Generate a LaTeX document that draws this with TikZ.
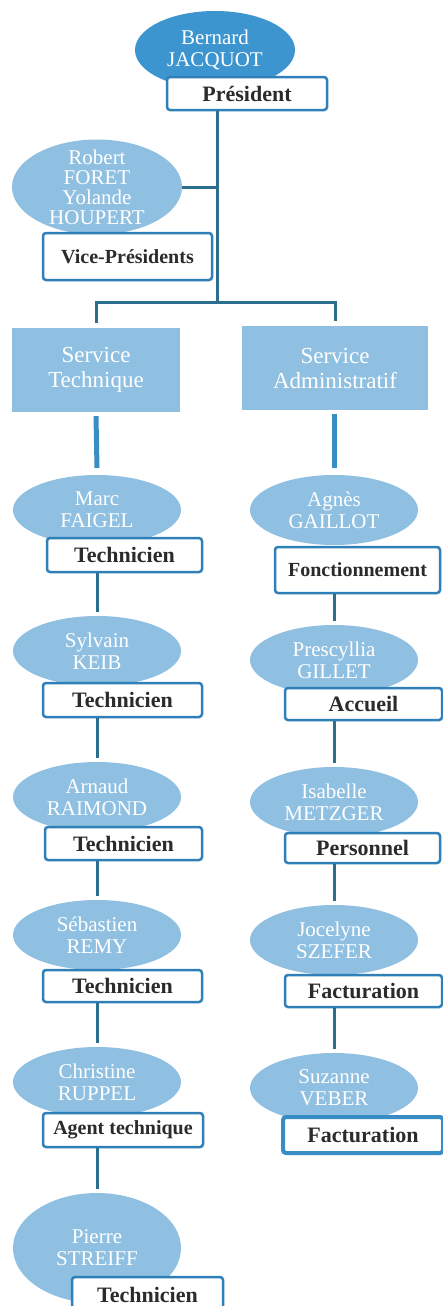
\documentclass[tikz,border=0pt]{standalone}
\usepackage{fontspec}
\setmainfont{Liberation Serif}
\usetikzlibrary{shapes.geometric, calc}
\definecolor{darkell}{HTML}{3D95D0}
\definecolor{lightell}{HTML}{8FC0E2}
\definecolor{linkcol}{HTML}{2B6E8E}
\definecolor{boxcol}{HTML}{2F80B8}
\definecolor{stemcol}{HTML}{3A8DC4}
\definecolor{rolecol}{HTML}{2B2B2B}

\begin{document}
\begin{tikzpicture}[x=1pt, y=-1pt,
    person/.style={ellipse, fill=lightell, text=white, align=center, inner sep=0pt,
      minimum width=168pt, minimum height=70pt, font=\fontsize{21}{22}\selectfont},
    role/.style={draw=boxcol, line width=2.5pt, rounded corners=3pt, fill=white,
      inner sep=0pt, minimum height=34pt, text=rolecol, font=\fontsize{22}{22}\selectfont\bfseries},
    smallrole/.style={role, font=\fontsize{20}{20}\selectfont\bfseries},
    service/.style={rectangle, fill=lightell, text=white, align=center, inner sep=0pt,
      minimum height=84pt, font=\fontsize{23}{25}\selectfont},
    link/.style={draw=linkcol, line width=3pt},
    stem/.style={draw=stemcol, line width=5pt}]
  \fill[white] (0,0) rectangle (442,1306);
  \useasboundingbox (0,0) rectangle (442,1306);

  % bureau
  \node[person, fill=darkell, minimum width=160pt, minimum height=78pt] (jacquot) at (215,50) {Bernard\\JACQUOT};
  \node[role, minimum width=160pt, minimum height=33pt] (pres) at (247,93.5) {Président};
  \node[person, inner sep=-6pt, minimum width=170pt, minimum height=95pt,
        font=\fontsize{21}{20}\selectfont] (foret) at (97,187) {Robert\\FORET\\Yolande\\HOUPERT};
  \node[smallrole, minimum width=169pt, minimum height=47pt] (vice) at (127.5,256.5) {Vice-Présidents};

  \coordinate (bar) at (217,302);
  \draw[link] (pres.south -| bar) -- (bar);
  \draw[link] (foret.east) -- (foret.east -| bar);

  % services
  \node[service, minimum width=168pt] (tech) at (96,370) {Service\\Technique};
  \node[service, minimum width=186pt] (admin) at (335,368) {Service\\Administratif};
  \draw[link] ($(tech.north)+(0,-5)$) |- (bar) -| ($(admin.north)+(0,-5)$);

  % service technique
  \node[person] (faigel) at (97,510) {Marc\\FAIGEL};
  \node[role, minimum width=155pt] (t1) at (124.5,555) {Technicien};
  \node[person] (keib) at (97,651) {Sylvain\\KEIB};
  \node[role, minimum width=159pt] (t2) at (122.5,700) {Technicien};
  \node[person] (raimond) at (97,797) {Arnaud\\RAIMOND};
  \node[role, minimum width=157pt, minimum height=33pt] (t3) at (123.5,843.5) {Technicien};
  \node[person] (remy) at (97,935) {Sébastien\\REMY};
  \node[role, minimum width=159pt, minimum height=32pt] (t4) at (122.5,986) {Technicien};
  \node[person] (ruppel) at (97,1082) {Christine\\RUPPEL};
  \node[smallrole, minimum width=160pt] (t5) at (123,1130) {Agent technique};
  \node[person, minimum height=110pt] (streiff) at (97,1248) {Pierre\\STREIFF};
  \node[role, minimum width=151pt, minimum height=35pt] (t6) at (147.5,1294.5) {Technicien};

  % service administratif
  \node[person] (gaillot) at (334,510) {Agnès\\GAILLOT};
  \node[smallrole, minimum width=165pt, minimum height=46pt] (a1) at (357.5,570) {Fonctionnement};
  \node[person] (gillet) at (334,660) {Prescyllia\\GILLET};
  \node[role, minimum width=157pt, minimum height=32pt] (a2) at (363.5,704) {Accueil};
  \node[person] (metzger) at (334,802) {Isabelle\\METZGER};
  \node[role, minimum width=155pt, minimum height=30pt] (a3) at (362.5,848) {Personnel};
  \node[person] (szefer) at (334,940) {Jocelyne\\SZEFER};
  \node[role, minimum width=157pt, minimum height=32pt] (a4) at (363.5,991) {Facturation};
  \node[person] (veber) at (334,1088) {Suzanne\\VEBER};
  \node[role, draw=stemcol, line width=4pt, minimum width=160pt, minimum height=36pt] (a5) at (363,1135) {Facturation};

  \draw[stem] ($(tech.south)+(0,4)$) -- ($(faigel.north)+(0,-7)$);
  \draw[stem] ($(admin.south -| gaillot.north)+(0,4)$) -- ($(gaillot.north)+(0,-7)$);
  \foreach \r/\p in {t1/keib, t2/raimond, t3/remy, t4/ruppel, t5/streiff,
                     a1/gillet, a2/metzger, a3/szefer, a4/veber}
    \draw[link] (\r.south -| \p.north) -- ($(\p.north)+(0,-4)$);
\end{tikzpicture}
\end{document}
